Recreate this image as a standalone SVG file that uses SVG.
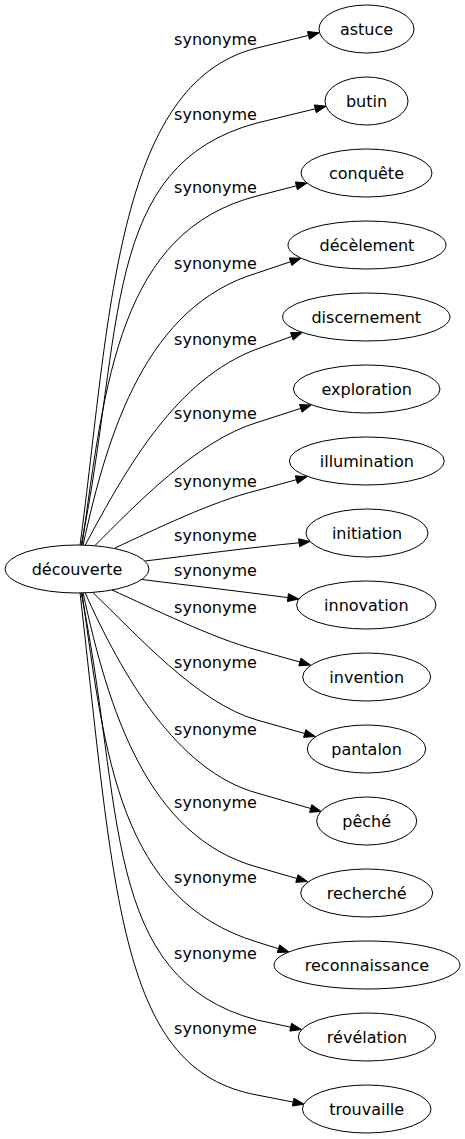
<svg xmlns="http://www.w3.org/2000/svg" width="465" height="1139" viewBox="0 0 465 1139">
<style>
.n ellipse{fill:#fff;stroke:#000;stroke-width:1}
.n text{font-family:"DejaVu Sans",sans-serif;font-size:16px;text-anchor:middle;fill:#000}
.e path{fill:none;stroke:#000;stroke-width:1}
.e polygon{fill:#000;stroke:#000;stroke-width:1}
.e text{font-family:"DejaVu Sans",sans-serif;font-size:16px;text-anchor:middle;fill:#000}
</style>
<rect width="465" height="1139" fill="#fff"/>
<g id="edges" class="e">
<path d="M80,545.5 C110,320 115,83 257,48 L308.5,35.4"/><polygon points="319.2,32.8 309.45,39.29 307.55,31.51"/><text x="215.5" y="45">synonyme</text>
<path d="M81,545.5 C125,330 100,165 257,123 L315.3,108.8"/><polygon points="326,106.2 316.25,112.69 314.35,104.91"/><text x="215.5" y="120">synonyme</text>
<path d="M82,545.5 C105,380 120,231 257,196 L296.4,185.8"/><polygon points="307,183 297.4,189.67 295.4,181.93"/><text x="215.5" y="193">synonyme</text>
<path d="M83,545.5 C108,430 147,306 257,273 L290.6,261.7"/><polygon points="301,258.2 291.88,265.49 289.32,257.91"/><text x="215.5" y="268.5">synonyme</text>
<path d="M85,545.5 C128,465 177,379 257,349 L291.9,336.35"/><polygon points="302.2,332.6 293.26,340.11 290.54,332.59"/><text x="215.5" y="345">synonyme</text>
<path d="M95,545.5 C135,505.5 197,440.5 257,422.5 L300.8,408.4"/><polygon points="311.3,405 302.03,412.21 299.57,404.59"/><text x="215.5" y="418.5">synonyme</text>
<path d="M115,548 C155,529.5 212,501.5 257,490.5 L296.4,479.7"/><polygon points="307,476.8 297.46,483.56 295.34,475.84"/><text x="215.5" y="486.5">synonyme</text>
<path d="M145,561 C195,555 250,547.5 299.1,542.8"/><polygon points="310,541.5 299.57,546.77 298.63,538.83"/><text x="215.5" y="540.5">synonyme</text>
<path d="M142,579.5 C190,585.5 245,592 287.9,597.6"/><polygon points="298.8,599 287.41,601.57 288.39,593.63"/><text x="215.5" y="575.5">synonyme</text>
<path d="M112,590 C152,608 212,638 257,650 L299.9,662"/><polygon points="310.5,665 298.82,665.85 300.98,658.15"/><text x="215.5" y="612.5">synonyme</text>
<path d="M93,592.7 C135,632.5 197,703 257,720 L304.7,733.5"/><polygon points="315.3,736.5 303.61,737.35 305.79,729.65"/><text x="215.5" y="667.5">synonyme</text>
<path d="M85,592.5 C122,675 177,771 257,793 L310.7,808.5"/><polygon points="321.3,811.5 309.59,812.34 311.81,804.66"/><text x="215.5" y="734.5">synonyme</text>
<path d="M83,592.5 C108,708 147,836.6 257,867 L296.9,878.5"/><polygon points="307.5,881.5 295.8,882.34 298,874.66"/><text x="215.5" y="807.5">synonyme</text>
<path d="M82,592.5 C105,758 120,900 257,942 L278.5,948.7"/><polygon points="289,952 277.31,952.52 279.69,944.88"/><text x="215.5" y="882.5">synonyme</text>
<path d="M81,592.5 C125,808 100,978 257,1020 L290.7,1027.2"/><polygon points="301.5,1029.5 289.86,1031.11 291.54,1023.29"/><text x="215.5" y="958.5">synonyme</text>
<path d="M80,592.5 C115,900 120,1070 257,1095 L293.2,1102.1"/><polygon points="304,1104.2 292.43,1106.02 293.97,1098.18"/><text x="215.5" y="1033.5">synonyme</text>
</g>
<g id="decouverte" class="n"><ellipse cx="77" cy="569" rx="72" ry="24"/><text x="77" y="574.5">découverte</text></g>
<g id="astuce" class="n"><ellipse cx="366.5" cy="29" rx="47.5" ry="24"/><text x="366.5" y="34.5">astuce</text></g>
<g id="butin" class="n"><ellipse cx="366.5" cy="101" rx="41.5" ry="24"/><text x="366.5" y="106.5">butin</text></g>
<g id="conquete" class="n"><ellipse cx="366.5" cy="173" rx="65.5" ry="24"/><text x="366.5" y="178.5">conquête</text></g>
<g id="decelement" class="n"><ellipse cx="367" cy="245" rx="79" ry="24"/><text x="367" y="250.5">décèlement</text></g>
<g id="discernement" class="n"><ellipse cx="366.3" cy="317" rx="83.7" ry="24"/><text x="366.3" y="322.5">discernement</text></g>
<g id="exploration" class="n"><ellipse cx="366.7" cy="389" rx="73.3" ry="24"/><text x="366.7" y="394.5">exploration</text></g>
<g id="illumination" class="n"><ellipse cx="366.8" cy="461" rx="77.5" ry="24"/><text x="366.8" y="466.5">illumination</text></g>
<g id="initiation" class="n"><ellipse cx="367" cy="533" rx="61" ry="24"/><text x="367" y="538.5">initiation</text></g>
<g id="innovation" class="n"><ellipse cx="366.3" cy="605" rx="69.7" ry="24"/><text x="366.3" y="610.5">innovation</text></g>
<g id="invention" class="n"><ellipse cx="366.7" cy="677" rx="64" ry="24"/><text x="366.7" y="682.5">invention</text></g>
<g id="pantalon" class="n"><ellipse cx="366.5" cy="749" rx="59.2" ry="24"/><text x="366.5" y="754.5">pantalon</text></g>
<g id="peche" class="n"><ellipse cx="366.7" cy="821" rx="50" ry="24"/><text x="366.7" y="826.5">pêché</text></g>
<g id="recherche" class="n"><ellipse cx="366.7" cy="893" rx="66" ry="24"/><text x="366.7" y="898.5">recherché</text></g>
<g id="reconnaissance" class="n"><ellipse cx="367" cy="965" rx="93" ry="24"/><text x="367" y="970.5">reconnaissance</text></g>
<g id="revelation" class="n"><ellipse cx="367" cy="1037" rx="68.7" ry="24"/><text x="367" y="1042.5">révélation</text></g>
<g id="trouvaille" class="n"><ellipse cx="366.7" cy="1109" rx="64.3" ry="24"/><text x="366.7" y="1114.5">trouvaille</text></g>
</svg>
